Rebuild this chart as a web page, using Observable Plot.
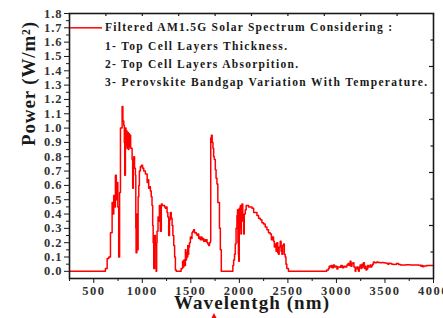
<!DOCTYPE html>
<html>
<head>
<meta charset="utf-8">
<script src="https://cdn.jsdelivr.net/npm/d3@7"></script>
<script src="https://cdn.jsdelivr.net/npm/@observablehq/plot@0.6"></script>
<style>
  html, body { margin: 0; padding: 0; background: #fff; }
  #chart { position: relative; width: 443px; height: 318px; overflow: hidden; }
  #chart svg text { font-family: "Liberation Serif", "Times New Roman", serif; }
  #tri { position: absolute; left: 211px; top: 313px; width: 0; height: 0;
         border-left: 3px solid transparent; border-right: 3px solid transparent;
         border-bottom: 6px solid #f00; }
</style>
</head>
<body>
<div id="chart"></div>
<script>
const wavelength = [250,600,613,620,638,655,672,689,698,706,714,723,732,740,748,757,766,775,792,800,809,815,819,826,832,838,843,850,856,862,868,874,880,888,895,901,907,912,920,929,933,936,944,950,957,964,970,980,991,1003,1015,1032,1050,1058,1066,1075,1083,1092,1100,1107,1112,1118,1126,1135,1142,1148,1152,1162,1170,1176,1181,1186,1196,1205,1220,1230,1238,1247,1255,1263,1272,1280,1289,1298,1307,1315,1324,1333,1341,1350,1392,1400,1409,1415,1422,1428,1436,1444,1450,1456,1461,1468,1472,1478,1486,1495,1503,1512,1520,1529,1538,1547,1556,1564,1572,1581,1590,1598,1607,1615,1624,1632,1641,1650,1658,1667,1675,1684,1692,1701,1705,1712,1720,1728,1735,1742,1752,1760,1769,1778,1786,1795,1804,1814,1924,1933,1941,1950,1958,1966,1975,1981,1985,1990,1993,1999,2005,2010,2016,2020,2027,2035,2044,2050,2061,2070,2078,2095,2113,2130,2147,2164,2181,2198,2215,2232,2249,2266,2284,2300,2318,2330,2340,2352,2360,2369,2378,2386,2395,2403,2410,2421,2430,2438,2446,2455,2463,2472,2480,2489,2506,2884,2900,2918,2925,2936,2945,2955,2970,2980,2990,3005,3015,3030,3045,3060,3075,3090,3107,3120,3130,3141,3150,3160,3170,3180,3193,3200,3210,3220,3227,3235,3244,3252,3262,3270,3279,3288,3296,3305,3313,3322,3330,3347,3355,3364,3372,3381,3395,3416,3430,3450,3470,3484,3500,3520,3530,3540,3553,3570,3590,3605,3621,3640,3660,3690,3720,3758,3790,3827,3850,3870,3878,3890,3900,3930,3960,4000];
const power = [0,0,0,0.02,0.09,0.10,0.27,0.48,0.40,0.53,0.45,0.67,0.50,0.62,0.45,0.10,0.55,1.00,1.15,1.05,1.02,0.90,0.67,1.00,0.88,0.98,0.86,0.97,0.85,0.96,0.87,0.95,0.86,0.86,0.78,0.58,0.74,0.80,0.72,0.67,0.30,0.13,0.40,0.15,0.52,0.60,0.70,0.73,0.74,0.72,0.70,0.68,0.62,0.64,0.58,0.59,0.56,0.52,0.46,0.32,0.20,0.02,0.25,0.18,0.00,0.20,0.28,0.38,0.35,0.46,0.40,0.28,0.47,0.46,0.46,0.45,0.44,0.45,0.41,0.38,0.25,0.36,0.41,0.37,0.32,0.25,0.18,0.10,0.01,0,0,0.02,0.02,0.07,0.03,0.08,0.04,0.15,0.08,0.13,0.10,0.18,0.12,0.17,0.20,0.24,0.23,0.27,0.28,0.29,0.27,0.27,0.26,0.25,0.26,0.23,0.24,0.22,0.24,0.22,0.23,0.21,0.22,0.21,0.22,0.20,0.19,0.18,0.20,0.21,0.93,0.95,0.90,0.86,0.80,0.78,0.71,0.65,0.61,0.48,0.48,0.30,0.15,0.00,0.00,0.04,0.08,0.12,0.19,0.30,0.39,0.43,0.20,0.12,0.07,0.44,0.30,0.46,0.26,0.40,0.47,0.35,0.26,0.40,0.43,0.46,0.46,0.45,0.45,0.44,0.41,0.41,0.39,0.37,0.36,0.34,0.33,0.31,0.29,0.27,0.26,0.22,0.24,0.21,0.17,0.19,0.14,0.20,0.13,0.12,0.17,0.21,0.14,0.12,0.18,0.19,0.12,0.10,0.05,0.02,0.00,0,0.01,0.02,0.035,0.03,0.04,0.025,0.045,0.03,0.035,0.017,0.03,0.028,0.04,0.025,0.035,0.03,0.045,0.055,0.04,0.07,0.035,0.055,0.06,0.03,0.00,0.02,0.03,0.015,0.00,0.03,0.045,0.02,0.05,0.03,0.06,0.02,0.035,0.01,0.017,0.04,0.03,0.045,0.03,0.04,0.05,0.066,0.06,0.066,0.062,0.06,0.062,0.06,0.058,0.055,0.05,0.056,0.055,0.05,0.048,0.05,0.055,0.048,0.045,0.045,0.046,0.045,0.044,0.045,0.042,0.035,0.04,0.032,0.038,0.04,0.04,0.04];

const xMajorTicks = [500,1000,1500,2000,2500,3000,3500,4000];
const xMinorTicks = [250,750,1250,1750,2250,2750,3250,3750];
const xTopTicks = [250,625,1000,1375,1750,2125,2500,2875,3250,3625,4000];
const yMajorTicks = [0,0.1,0.2,0.3,0.4,0.5,0.6,0.7,0.8,0.9,1.0,1.1,1.2,1.3,1.4,1.5,1.6,1.7,1.8];
const yMinorTicks = [0.05,0.15,0.25,0.35,0.45,0.55,0.65,0.75,0.85,0.95,1.05,1.15,1.25,1.35,1.45,1.55,1.65,1.75];
const yRightMajor = [0.32,0.69,1.06,1.43];
const yRightMinor = [0.135,0.505,0.875,1.245,1.615];
const xLabel = "Wavelentgh (nm)";
const yLabel = "Power (W/m²)";
const legendLines = [
  "Filtered AM1.5G Solar Spectrum Considering :",
  "1- Top Cell Layers Thickness.",
  "2- Top Cell Layers Absorpition.",
  "3- Perovskite Bandgap Variation With Temperature."
];

const data = wavelength.map((w, i) => ({w, p: power[i]}));
const W = 443, H = 318, mL = 69, mR = 10, mT = 13, mB = 40;
const pw = W - mL - mR, ph = H - mT - mB;
const serif = "Liberation Serif";
const ink = "#1a1a1a";

const chart = Plot.plot({
  width: W, height: H,
  marginLeft: mL, marginRight: mR, marginTop: mT, marginBottom: mB,
  style: {background: "#fff", fontFamily: serif, color: ink, overflow: "visible"},
  x: {domain: [250, 4000]},
  y: {domain: [-0.05, 1.8]},
  marks: [
    Plot.axisX({ticks: xMajorTicks, tickSize: 5, tickPadding: 3, label: null, fontWeight: "bold", fontSize: 12.5, fontFamily: serif, stroke: ink, fill: "#333", tickFormat: d => String(d)}),
    Plot.tickX(xMinorTicks, {x: d => d, insetTop: ph, insetBottom: -3, stroke: ink}),
    Plot.axisY({ticks: yMajorTicks, tickSize: 5, tickPadding: 2, label: null, fontWeight: "bold", fontSize: 12.5, fontFamily: serif, stroke: ink, fill: "#333", tickFormat: d3.format(".1f")}),
    Plot.tickY(yMinorTicks, {y: d => d, insetLeft: -3, insetRight: pw, stroke: ink}),
    Plot.tickX(xTopTicks, {x: d => d, insetBottom: ph - 3, stroke: ink, strokeWidth: 1.2}),
    Plot.tickY(yRightMajor, {y: d => d, insetLeft: pw - 4, stroke: ink, strokeWidth: 1.2}),
    Plot.tickY(yRightMinor, {y: d => d, insetLeft: pw - 2.5, stroke: ink, strokeWidth: 1.2}),
    Plot.line(data, {x: "w", y: "p", stroke: "#ff0000", strokeWidth: 1.5, curve: "step-after"}),
    Plot.frame({stroke: ink, strokeWidth: 1.6}),
    Plot.tickY([legendLines[0]], {y: () => 1.7, insetLeft: 1, insetRight: pw - 33, stroke: "#ff0000", strokeWidth: 1.5}),
    Plot.text([yLabel], {frameAnchor: "left", dx: -41, rotate: -90, fontWeight: "bold", fontSize: 19, fontFamily: serif, fill: ink}),
    Plot.text([xLabel], {frameAnchor: "bottom", dy: 30, fontWeight: "bold", fontSize: 19, fontFamily: serif, fill: ink})
  ]
});

// legend text block (inside the frame, top-left, beside the red swatch)
const legendY = [14.5, 33, 51, 69];
const legendLen = [287, 182, 193, 322];
const lg = d3.select(chart).append("g").attr("aria-label", "legend").attr("text-anchor", "start");
legendLines.forEach((t, i) => {
  lg.append("text")
    .attr("x", mL + 36).attr("y", mT + legendY[i])
    .attr("dy", "0.32em")
    .attr("text-anchor", "start")
    .attr("font-family", serif).attr("font-weight", "bold").attr("font-size", 11.5)
    .attr("fill", ink)
    .attr("textLength", legendLen[i]).attr("lengthAdjust", "spacing")
    .text(t);
});
d3.select(chart).selectAll("text").each(function() {
  const t = this.textContent;
  if (t === xLabel) {
    this.setAttribute("textLength", 155);
    this.setAttribute("lengthAdjust", "spacing");
  } else if (t === yLabel) {
    this.setAttribute("textLength", 124);
    this.setAttribute("lengthAdjust", "spacing");
  }
});
d3.select(chart).selectAll("[aria-label='x-axis tick label'] text").style("letter-spacing", "1.5px");
d3.select(chart).selectAll("[aria-label='y-axis tick label'] text").style("letter-spacing", "1px");

document.getElementById("chart").appendChild(chart);
const tri = document.createElement("div");
tri.id = "tri";
document.getElementById("chart").appendChild(tri);
</script>
</body>
</html>
